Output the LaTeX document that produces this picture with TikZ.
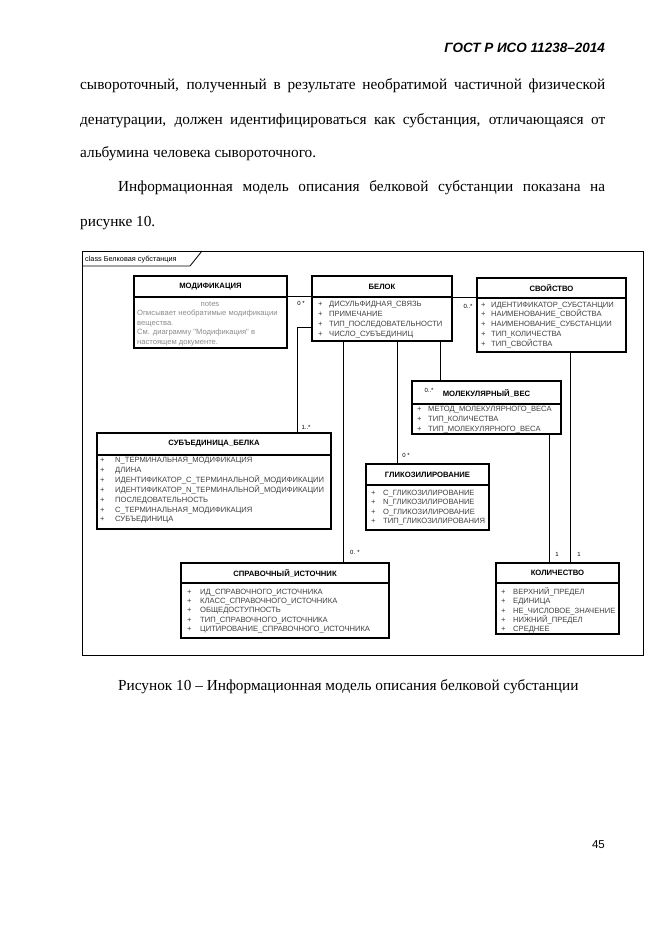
\documentclass[tikz,border=0pt]{standalone}
\usepackage{fontspec}
\setmainfont{Liberation Serif}
\setsansfont{Liberation Sans}
\newfontfamily\dfont{Liberation Sans}
\newcommand\attrlist[6]{\foreach \t [count=\i] in {#6}{\node[attr] (#1-\i) at ({#2},{#3+#4*(\i-1)}) {\makebox[#5pt][l]{+}\t};}}
\begin{document}
\begin{tikzpicture}[x=1pt,y=-1pt,
  cls/.style={draw, line width=1.1pt, fill=white, anchor=north west, inner sep=0pt, outer sep=0pt},
  div/.style={line width=1.1pt},
  ttl/.style={font=\fontsize{7.7}{8}\dfont\bfseries, inner sep=0pt},
  attr/.style={font=\fontsize{7.6}{8}\dfont, text=black!75, anchor=base west, inner sep=0pt},
  note/.style={font=\fontsize{7.6}{8}\dfont, text=black!45, anchor=base west, inner sep=0pt},
  mult/.style={font=\fontsize{6}{7}\dfont, inner sep=0pt},
  conn/.style={line width=0.8pt},
  body/.style={font=\fontsize{15.3}{17}\selectfont, anchor=base west, inner sep=0pt}]
\fill[white] (0,0) rectangle (661,935);
\useasboundingbox (0,0) rectangle (661,935);

% page text
\node[font=\fontsize{13.5}{15}\sffamily\bfseries\itshape, anchor=base east, inner sep=0pt] (hdr) at (605,52) {ГОСТ Р ИСО 11238–2014};
\node[body] (l1) at (80,89) {\makebox[525pt][s]{сывороточный, полученный в результате необратимой частичной физической}};
\node[body] (l2) at (80,124) {\makebox[525pt][s]{денатурации, должен идентифицироваться как субстанция, отличающаяся от}};
\node[body] (l3) at (80,157) {альбумина человека сывороточного.};
\node[body] (l4) at (118,191) {\makebox[487pt][s]{Информационная модель описания белковой субстанции показана на}};
\node[body] (l5) at (80,226) {рисунке 10.};
\node[body] (cap) at (118,690) {Рисунок 10 – Информационная модель описания белковой субстанции};
\node[font=\fontsize{11.5}{13}\sffamily, anchor=base east, inner sep=0pt] (pg) at (605,848) {45};

% frame
\node[draw, line width=1.1pt, anchor=north west, minimum width=561pt, minimum height=404pt, inner sep=0pt] (frame) at (82,251) {};
\coordinate (tabA) at (82,266);
\coordinate (tabB) at (190,266);
\coordinate (tabC) at (202,251);
\draw[line width=0.8pt] (tabA) -- (tabB) -- (tabC);
\node[font=\fontsize{7.3}{8}\dfont, anchor=base west, inner sep=0pt] (ftitle) at (85,261) {class Белковая субстанция};

% classes
\node[cls, minimum width=153pt, minimum height=72pt] (modif) at (134,276) {};
\node[cls, minimum width=140pt, minimum height=65pt] (belok) at (312,276) {};
\node[cls, minimum width=149pt, minimum height=74pt] (svoy) at (477,278) {};
\node[cls, minimum width=234pt, minimum height=96pt] (subed) at (97,433) {};
\node[cls, minimum width=149pt, minimum height=53pt] (molves) at (412,381) {};
\node[cls, minimum width=123pt, minimum height=66pt] (glik) at (366,464) {};
\node[cls, minimum width=208pt, minimum height=75pt] (sprav) at (181,563) {};
\node[cls, minimum width=123pt, minimum height=71pt] (kolich) at (496,563) {};

\draw[div] ([yshift=-21pt]modif.north west) -- ([yshift=-21pt]modif.north east);
\draw[div] ([yshift=-21pt]belok.north west) -- ([yshift=-21pt]belok.north east);
\draw[div] ([yshift=-20pt]svoy.north west) -- ([yshift=-20pt]svoy.north east);
\draw[div] ([yshift=-22pt]subed.north west) -- ([yshift=-22pt]subed.north east);
\draw[div] ([yshift=-23pt]molves.north west) -- ([yshift=-23pt]molves.north east);
\draw[div] ([yshift=-21pt]glik.north west) -- ([yshift=-21pt]glik.north east);
\draw[div] ([yshift=-20pt]sprav.north west) -- ([yshift=-20pt]sprav.north east);
\draw[div] ([yshift=-20pt]kolich.north west) -- ([yshift=-20pt]kolich.north east);

\node[ttl] (modif-t) at ([yshift=-10.5pt]modif.north) {МОДИФИКАЦИЯ};
\node[ttl] (belok-t) at ([yshift=-10.5pt]belok.north) {БЕЛОК};
\node[ttl] (svoy-t) at ([yshift=-10pt]svoy.north) {СВОЙСТВО};
\node[ttl] (subed-t) at ([yshift=-11pt]subed.north) {СУБЪЕДИНИЦА\_БЕЛКА};
\node[ttl] (molves-t) at ([yshift=-12pt]molves.north) {МОЛЕКУЛЯРНЫЙ\_ВЕС};
\node[ttl] (glik-t) at ([yshift=-10.5pt]glik.north) {ГЛИКОЗИЛИРОВАНИЕ};
\node[ttl] (sprav-t) at ([yshift=-10pt]sprav.north) {СПРАВОЧНЫЙ\_ИСТОЧНИК};
\node[ttl] (kolich-t) at ([yshift=-10pt]kolich.north) {КОЛИЧЕСТВО};

% notes
\node[note, anchor=base] (modif-n0) at (210,306) {notes};
\node[note] (modif-n1) at (137,315.5) {Описывает необратимые модификации};
\node[note] (modif-n2) at (137,325) {вещества.};
\node[note] (modif-n3) at (137,334.5) {См. диаграмму "Модификация" в};
\node[note] (modif-n4) at (137,344) {настоящем документе.};

% attributes
\attrlist{belok}{318}{306.5}{10}{11}{ДИСУЛЬФИДНАЯ\_СВЯЗЬ,ПРИМЕЧАНИЕ,ТИП\_ПОСЛЕДОВАТЕЛЬНОСТИ,ЧИСЛО\_СУБЪЕДИНИЦ}
\attrlist{svoy}{481}{307}{9.8}{10}{ИДЕНТИФИКАТОР\_СУБСТАНЦИИ,НАИМЕНОВАНИЕ\_СВОЙСТВА,НАИМЕНОВАНИЕ\_СУБСТАНЦИИ,ТИП\_КОЛИЧЕСТВА,ТИП\_СВОЙСТВА}
\attrlist{subed}{100}{462.5}{9.9}{15}{N\_ТЕРМИНАЛЬНАЯ\_МОДИФИКАЦИЯ,ДЛИНА,ИДЕНТИФИКАТОР\_С\_ТЕРМИНАЛЬНОЙ\_МОДИФИКАЦИИ,ИДЕНТИФИКАТОР\_N\_ТЕРМИНАЛЬНОЙ\_МОДИФИКАЦИИ,ПОСЛЕДОВАТЕЛЬНОСТЬ,С\_ТЕРМИНАЛЬНАЯ\_МОДИФИКАЦИЯ,СУБЪЕДИНИЦА}
\attrlist{molves}{417}{411.5}{10}{11}{МЕТОД\_МОЛЕКУЛЯРНОГО\_ВЕСА,ТИП\_КОЛИЧЕСТВА,ТИП\_МОЛЕКУЛЯРНОГО\_ВЕСА}
\attrlist{glik}{371}{495.5}{9.4}{12}{С\_ГЛИКОЗИЛИРОВАНИЕ,N\_ГЛИКОЗИЛИРОВАНИЕ,O\_ГЛИКОЗИЛИРОВАНИЕ,ТИП\_ГЛИКОЗИЛИРОВАНИЯ}
\attrlist{sprav}{187}{594.5}{9.2}{13}{ИД\_СПРАВОЧНОГО\_ИСТОЧНИКА,КЛАСС\_СПРАВОЧНОГО\_ИСТОЧНИКА,ОБЩЕДОСТУПНОСТЬ,ТИП\_СПРАВОЧНОГО\_ИСТОЧНИКА,ЦИТИРОВАНИЕ\_СПРАВОЧНОГО\_ИСТОЧНИКА}
\attrlist{kolich}{501}{594.5}{9.3}{12}{ВЕРХНИЙ\_ПРЕДЕЛ,ЕДИНИЦА,НЕ\_ЧИСЛОВОЕ\_ЗНАЧЕНИЕ,НИЖНИЙ\_ПРЕДЕЛ,СРЕДНЕЕ}

% connectors
\draw[conn] ([yshift=-20pt]modif.north east) -- ([yshift=-20pt]belok.north west);
\draw[conn] ([yshift=-21pt]belok.north east) -- ([yshift=-19pt]svoy.north west);
\draw[conn] ([yshift=-51pt]belok.north west) -| ([xshift=200pt]subed.north west);
\draw[conn] ([xshift=31pt]belok.south west) -- ([xshift=162pt]sprav.north west);
\draw[conn] ([xshift=85pt]belok.south west) -- ([xshift=31pt]glik.north west);
\draw[conn] ([xshift=128pt]belok.south west) -- ([xshift=28pt]molves.north west);
\draw[conn] ([xshift=137pt]molves.south west) -- ([xshift=53pt]kolich.north west);
\draw[conn] ([xshift=93pt]svoy.south west) -- ([xshift=74pt]kolich.north west);

% multiplicities
\node[mult] (m1) at (301,303) {0 *};
\node[mult] (m2) at (468,306) {0..*};
\node[mult] (m3) at (306,427) {1..*};
\node[mult] (m4) at (355,552) {0. *};
\node[mult] (m5) at (406,455) {0 *};
\node[mult] (m6) at (429,390) {0..*};
\node[mult] (m7) at (557,554) {1};
\node[mult] (m8) at (579,554) {1};
\end{tikzpicture}
\end{document}
